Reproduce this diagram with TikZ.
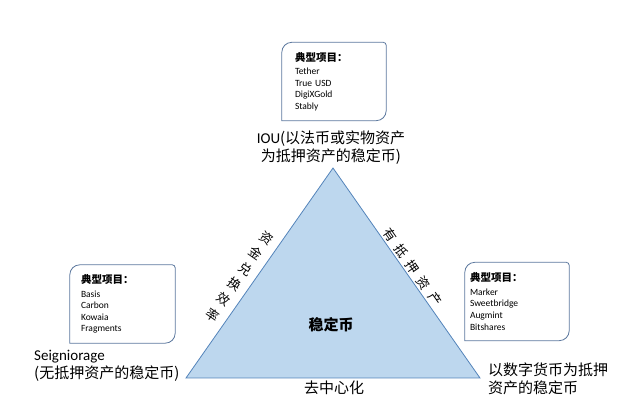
\documentclass[tikz,border=0pt]{standalone}
\usepackage{fontspec}
\setmainfont{Carlito}
\newfontfamily\cjk{Noto Sans CJK SC}
\newfontfamily\lat{Carlito}
\usetikzlibrary{calc}
\definecolor{fillstable}{RGB}{189,215,238}
\definecolor{linestable}{RGB}{84,132,186}
\definecolor{framestable}{RGB}{92,120,158}
\newcommand{\projhead}{{\cjk\bfseries\fontsize{10.5}{12}\selectfont 典型项目：}}

\begin{document}
\begin{tikzpicture}[x=1pt, y=1pt, font=\cjk\fontsize{15}{18}\selectfont,
    projbox/.style={align=left, minimum height=78pt, inner ysep=0pt,
      font=\lat\fontsize{9.5}{11.6}\selectfont},
    tag/.style={inner sep=0pt},
    edgetag/.style={inner sep=0pt, font=\cjk\fontsize{13}{15}\selectfont}]
                \useasboundingbox (0,0) rectangle (640,412);
                % segitiga
                \coordinate (apex) at (333,244);
                \coordinate (lft) at (186,34);
                \coordinate (rgt) at (480,34);
                \draw[fill=fillstable, draw=linestable, thick] (apex) -- (lft) -- (rgt) -- cycle;
                \node[tag, font=\cjk\bfseries\fontsize{15}{18}\selectfont] (core) at (331,87) {稳定币};
                \node[tag] (decen) at (334,24) {去中心化};
                % sisi
                \foreach \c [count=\i from 0] in {资,金,兑,换,效,率}
                  \node[edgetag, rotate=-35] (fund\i) at ({267-10.8*\i},{174-15.4*\i}) {\c};
                \foreach \c [count=\i from 0] in {有,抵,押,资,产}
                  \node[edgetag, rotate=-55] (asset\i) at ({390+11.2*\i},{177-16*\i}) {\c};
                % sudut
                \node[tag, align=center] (ioulab) at (331,264) {{\lat IOU}(以法币或实物资产\\为抵押资产的稳定币)};
                \node[tag, anchor=west, align=left] (seiglab) at (34,46) {{\lat Seigniorage}\\(无抵押资产的稳定币)};
                \node[tag, anchor=west, align=left] (cryptolab) at (488,33.5) {以数字货币为抵押\\资产的稳定币};
                % kotak proyek
                \node[projbox, inner xsep=13pt, text width=78pt] (boxtop) at (334,330.5) {\projhead\\[2pt] Tether\\True USD\\DigiXGold\\Stably};
                \node[projbox, inner xsep=11pt, text width=83pt] (boxleft) at (122.5,108) {\projhead\\[2pt] Basis\\Carbon\\Kowaia\\Fragments};
                \node[projbox, inner xsep=5pt, text width=94pt] (boxright) at (517,110.5) {\projhead\\[2pt] Marker\\Sweetbridge\\Augmint\\Bitshares};
                \foreach \b in {boxtop,boxleft,boxright}
                  \draw[draw=framestable, line width=0.8pt] (\b.south west) -- ([yshift=-10pt]\b.north west)
                    arc[start angle=180, end angle=90, radius=10pt] -- ([xshift=-3pt]\b.north east)
                    arc[start angle=90, end angle=0, radius=3pt] -- ([yshift=10pt]\b.south east)
                    arc[start angle=0, end angle=-90, radius=10pt] -- cycle;
            \end{tikzpicture}
\end{document}
